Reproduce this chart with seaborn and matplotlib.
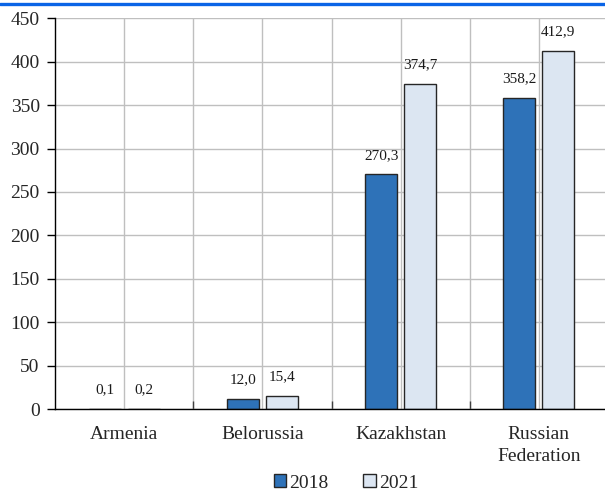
import matplotlib
matplotlib.use("Agg")
import matplotlib.pyplot as plt
import numpy as np
import pandas as pd
import seaborn as sns
from matplotlib.ticker import FixedLocator
from matplotlib.lines import Line2D

countries = ["Armenia", "Belorussia", "Kazakhstan", "Russian\nFederation"]
years = ["2018", "2021"]
values_2018 = [0.1, 12.0, 270.3, 358.2]
values_2021 = [0.2, 15.4, 374.7, 412.9]
y_ticks = [0, 50, 100, 150, 200, 250, 300, 350, 400, 450]

df = pd.DataFrame({
    "country": countries * 2,
    "year": [years[0]] * len(countries) + [years[1]] * len(countries),
    "value": values_2018 + values_2021,
})

sns.set_theme(style="white")
plt.rcParams["font.family"] = ["Liberation Serif", "DejaVu Serif"]

W, H = 605, 492
fig = plt.figure(figsize=(W / 100, H / 100), dpi=100)
ax = fig.add_axes([55 / W, 1 - 409 / H, 553 / W, (409 - 18.3) / H])

sns.barplot(data=df, x="country", y="value", hue="year", order=countries,
            hue_order=years, palette=["#2E72B8", "#DCE6F2"], saturation=1,
            width=0.564, gap=0.18, edgecolor="#262626", linewidth=1.0,
            ax=ax, zorder=3)

ax.set_xlim(-0.5, 3.5)
ax.set_ylim(0, 450)
ax.set_yticks(y_ticks)
ax.set_xlabel("")
ax.set_ylabel("")

ax.xaxis.set_minor_locator(FixedLocator([0.5, 1.5, 2.5]))
ax.set_axisbelow(True)
ax.yaxis.grid(True, color="#BFBFBF", lw=1.0)
ax.xaxis.grid(True, which="both", color="#BFBFBF", lw=1.0)

for s in ["top", "right"]:
    ax.spines[s].set_visible(False)
for s in ["left", "bottom"]:
    ax.spines[s].set_color("#000000")
    ax.spines[s].set_linewidth(1.0)
    ax.spines[s].set_zorder(4)

ax.tick_params(axis="y", which="major", direction="out", length=6, width=1,
               color="black", labelsize=14, pad=5, left=True)
ax.tick_params(axis="x", which="major", length=0, labelsize=14, pad=12, bottom=True)
ax.tick_params(axis="x", which="minor", direction="in", length=6, width=1,
               color="#404040", bottom=True)
for lbl in ax.get_xticklabels():
    lbl.set_verticalalignment("top")
    lbl.set_linespacing(1.4)

for cont, vals in zip(ax.containers, [values_2018, values_2021]):
    ax.bar_label(cont, labels=[f"{v:.1f}".replace(".", ",") for v in vals],
                 padding=9, fontsize=11, color="#1a1a1a")

handles, labels = ax.get_legend_handles_labels()
if ax.get_legend() is not None:
    ax.get_legend().remove()
fig.legend(handles, labels, loc="center", bbox_to_anchor=(346 / W, 1 - 483 / H),
           ncol=2, frameon=False, fontsize=14, handlelength=0.65, handleheight=0.65,
           handletextpad=0.15, columnspacing=1.8, borderpad=0)

fig.add_artist(Line2D([0, 1], [1 - 3.5 / H, 1 - 3.5 / H], transform=fig.transFigure,
                      color="#0A64E6", lw=2.4))

fig.savefig("out.png", dpi=100)
